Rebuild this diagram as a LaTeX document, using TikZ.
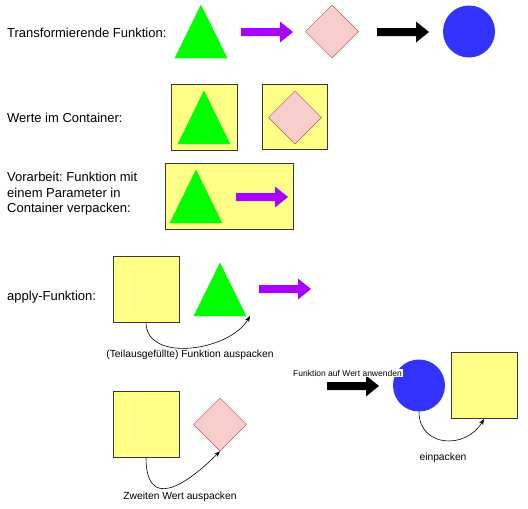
\documentclass[tikz,border=0pt]{standalone}
\usepackage{fontspec}
\setmainfont{Liberation Sans}
\usepackage{tikz}
\usetikzlibrary{arrows.meta}
\usetikzlibrary{shapes.geometric}
\definecolor{boxyellow}{HTML}{FFFF88}
\definecolor{boxline}{HTML}{36393D}
\definecolor{valgreen}{HTML}{00FF00}
\definecolor{valpink}{HTML}{F8CECC}
\definecolor{pinkline}{HTML}{B85450}
\definecolor{valblue}{HTML}{3333FF}
\definecolor{funcpurple}{HTML}{AA00FF}
\frenchspacing
% green triangle: name, centre x, centre y
\newcommand{\greentri}[3]{%
  \filldraw[tri] (#2-26,#3-26.5) coordinate (#1-l) -- (#2,#3+26.5) coordinate (#1-t)
    -- (#2+26,#3-26.5) coordinate (#1-r) -- cycle;}
% block arrow: colour, tail x, tail y
\newcommand{\blockarrow}[3]{%
  \fill[#1] (#2,#3+4) -- ++(39,0) -- ++(0,6.5) -- ++(13,-10.5) -- ++(-13,-10.5)
    -- ++(0,6.5) -- ++(-39,0) -- cycle;}

\begin{document}
\begin{tikzpicture}[x=1pt, y=1pt,
  label/.style={anchor=west, inner sep=0pt, align=left, font=\fontsize{13}{15.5}\selectfont},
  note/.style={inner sep=1pt, font=\fontsize{10.3}{12}\selectfont},
  container/.style={draw=boxline, fill=boxyellow, line width=0.8pt, minimum size=66pt, inner sep=0pt},
  tri/.style={fill=valgreen, draw=valgreen, line width=0.4pt},
  value/.style={diamond, aspect=1, fill=valpink, draw=pinkline, line width=0.5pt, minimum size=53pt, inner sep=0pt},
  result/.style={circle, fill=valblue, minimum size=52pt, inner sep=0pt},
  pull/.style={-{Stealth[length=6pt,width=4.5pt]}, line width=0.6pt}]
  \useasboundingbox (0,0) rectangle (528,-509);
  % Transforming function
  \node[label] (lab1) at (7,-33) {Transformierende Funktion:};
  \greentri{tri1}{201}{-31.5}
  \blockarrow{funcpurple}{241}{-32}
  \node[value] (dia1) at (332,-31.5) {};
  \blockarrow{black}{377}{-32}
  \node[result] (circ1) at (469,-31.5) {};
  % Values in container
  \node[label] (lab2) at (7,-118) {Werte im Container:};
  \node[container] (box2a) at (204,-117) {};
  \greentri{tri2}{204}{-117.5}
  \node[container, minimum size=65pt] (box2b) at (294.5,-117) {};
  \node[value] (dia2) at (295,-117.5) {};
  % Function in container
  \node[label] (lab3) at (7,-194) {Vorarbeit: Funktion mit\\einem Parameter in\\Container verpacken:};
  \node[container, minimum width=128pt] (box3) at (229,-196) {};
  \greentri{tri3}{196}{-196.5}
  \blockarrow{funcpurple}{236}{-197}
  % apply
  \node[label] (lab4) at (7,-297) {apply-Funktion:};
  \node[container] (box4) at (146,-289) {};
  \greentri{tri4}{220}{-289.5}
  \blockarrow{funcpurple}{259}{-289}
  \draw[pull] (box4.south) to[out=-90, in=-120] ([xshift=4pt]tri4-r);
  \node[note] (note4) at (190,-355) {(Teilausgefüllte) Funktion auspacken};
  \node[container] (box5) at (146,-424) {};
  \node[value] (dia5) at (220,-424.5) {};
  \draw[pull] (box5.south) to[out=-90, in=-135, looseness=1.8] (dia5.south);
  \node[note] (note5) at (180,-497) {Zweiten Wert auspacken};
  % Apply and wrap
  \blockarrow{black}{327}{-386}
  \node[result] (circR) at (419,-385.5) {};
  \node[note, fill=white, font=\fontsize{8.5}{10}\selectfont] (noteR) at (347.5,-373) {Funktion auf Wert anwenden};
  \node[container] (boxR) at (484,-385.5) {};
  \draw[pull] (circR.south) to[out=-90, in=-120, looseness=1.4] (boxR.south);
  \node[note] (noteE) at (443,-458) {einpacken};
\end{tikzpicture}
\end{document}
